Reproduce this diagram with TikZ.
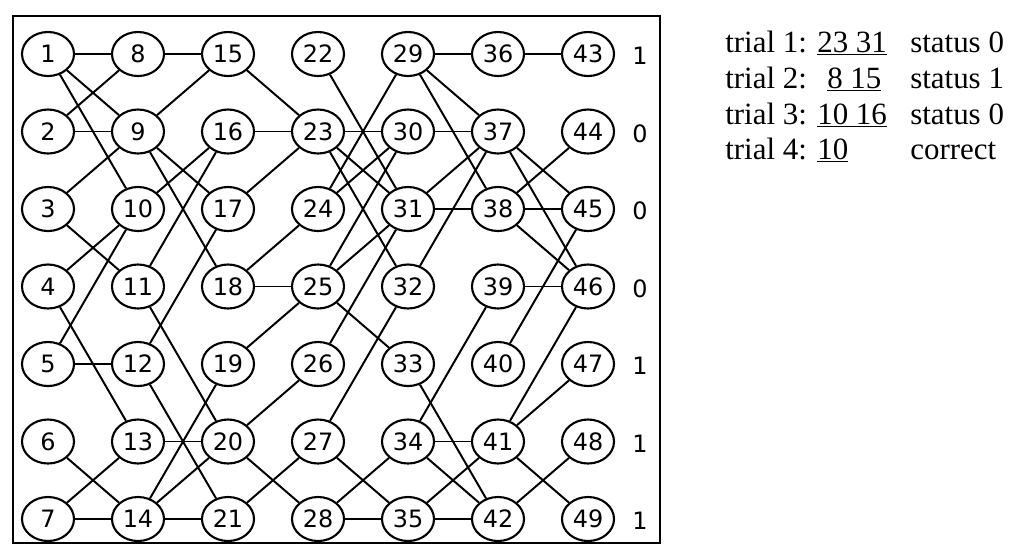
\documentclass[tikz,border=0pt]{standalone}
\usepackage{fontspec}
\setmainfont{Liberation Serif}
\newfontfamily\gridfont{DejaVu Sans}
\usepackage{tikz}
\usetikzlibrary{shapes.geometric}

\begin{document}
\begin{tikzpicture}[x=0.025cm,y=-0.025cm,
    vtx/.style={ellipse,draw,line width=1.5pt,minimum width=1.3cm,minimum height=1.1cm,
      inner sep=0pt,font=\gridfont\fontsize{17}{17}\selectfont},
    lnk/.style={line width=1.4pt},
    bit/.style={font=\gridfont\fontsize{17}{17}\selectfont},
    trialtxt/.style={anchor=base west,inner sep=0pt,font=\fontsize{22}{22}\selectfont}]
    \useasboundingbox (0,0) rectangle (1010,549);
    \draw[line width=1.5pt] (13,16) rectangle (660,543);
    % vertices, column by column
    \foreach \c in {0,...,6}
      \foreach \r in {0,...,6}{
        \pgfmathtruncatemacro{\n}{7*\c+\r+1}
        \node[vtx] (v\n) at ({48+90*\c},{54+77.5*\r}) {\n};
      }
    % row bits
    \foreach \b [count=\r from 0] in {1,0,0,0,1,1,1}
      \node[bit] (b\r) at (640,{56+77.5*\r}) {\b};
    % edges
    \foreach \a/\b in {1/8,1/9,1/10,2/8,2/9,3/9,3/11,4/10,4/13,5/10,5/12,6/14,7/13,7/14,
        8/15,9/15,9/17,9/18,10/16,11/16,11/20,12/17,12/21,13/20,14/19,14/20,14/21,
        15/23,16/23,17/23,18/24,18/25,19/25,20/26,20/28,21/27,
        22/31,23/30,23/31,23/32,24/29,24/30,25/30,25/31,25/33,26/31,27/32,27/35,28/34,28/35,
        29/36,29/37,29/38,30/37,31/37,31/38,32/37,33/42,34/39,34/41,34/42,35/41,35/42,
        36/43,37/45,37/46,38/44,38/45,38/46,39/46,40/45,41/46,41/47,41/49,42/48}
      \draw[lnk] (v\a) -- (v\b);
    % trials
    \node[trialtxt] (t1) at (725,52) {trial 1:};
    \node[trialtxt] (t2) at (725,88) {trial 2:};
    \node[trialtxt] (t3) at (725,124) {trial 3:};
    \node[trialtxt] (t4) at (725,159) {trial 4:};
    \node[trialtxt] (n1) at (817,52) {\underline{23 31}};
    \node[trialtxt] (n2) at (827,88) {\underline{8 15}};
    \node[trialtxt] (n3) at (817,124) {\underline{10 16}};
    \node[trialtxt] (n4) at (817,159) {\underline{10}};
    \node[trialtxt] (s1) at (910,52) {status 0};
    \node[trialtxt] (s2) at (910,88) {status 1};
    \node[trialtxt] (s3) at (910,124) {status 0};
    \node[trialtxt] (s4) at (910,159) {correct};
\end{tikzpicture}
\end{document}
